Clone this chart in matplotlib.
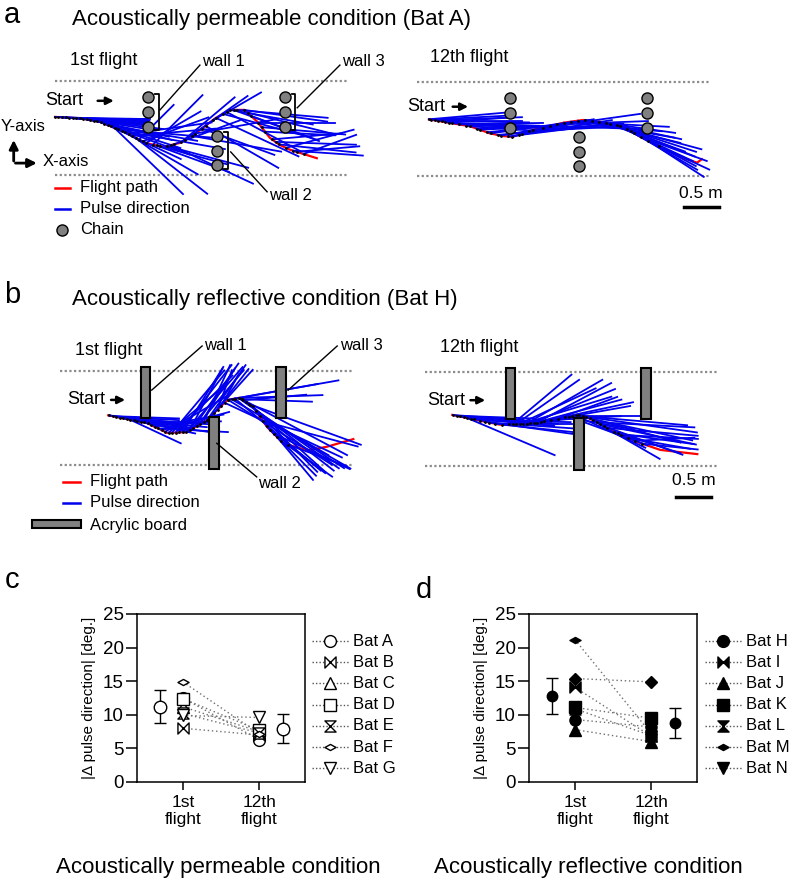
import numpy as np
import matplotlib
matplotlib.use("Agg")
import matplotlib.pyplot as plt
from matplotlib.lines import Line2D
from matplotlib.path import Path
from matplotlib.patches import Rectangle

plt.rcParams["font.family"] = ["Liberation Sans", "DejaVu Sans"]

W, H = 793, 885
PPM = 70.0  # figure pixels per metre in the flight drawings

# ---- flight room (m) ----
corridor_len = 4.2
corridor_w = 1.35
chain_x = [1.33, 2.32, 3.28]
chain_y_upper = [1.11, 0.90, 0.69]
chain_y_lower = [0.56, 0.35, 0.14]
board_x = [1.22, 2.20, 3.16]
board_w = 0.14
board_upper = (0.67, 1.40)
board_lower = (-0.05, 0.68)
scale_len = 0.5

# ---- Bat A, 1st flight (permeable) ----
a1_path_x = [0.00, 0.36, 0.64, 1.00, 1.29, 1.54, 1.79, 2.03, 2.29, 2.50, 2.71, 2.89, 3.07, 3.21, 3.36, 3.74]
a1_path_y = [0.83, 0.81, 0.76, 0.61, 0.46, 0.40, 0.46, 0.61, 0.81, 0.93, 0.93, 0.76, 0.53, 0.43, 0.36, 0.24]
a1_pulse_s = [0.00, 0.05, 0.10, 0.15, 0.20, 0.25, 0.30, 0.35, 0.40, 0.45, 0.50, 0.55, 0.60, 0.65, 0.70,
              0.75, 0.80, 0.85, 0.90, 0.95, 1.00, 1.05, 1.10, 1.15, 1.20, 1.25, 1.30, 1.40, 1.45, 1.50,
              1.60, 1.65, 1.70, 1.80, 1.85, 1.95, 2.00, 2.10, 2.15, 2.25, 2.30, 2.40, 2.45, 2.50, 2.55,
              2.60, 2.70, 2.75, 2.80, 2.90, 2.95, 3.00, 3.10, 3.15, 3.20, 3.30, 3.40, 3.45, 3.55]
a1_pulse_ang = [-4, -3, -2, -5, -1, -4, -6, -2, 0, -9, -7, -12, -14, -18, -20,
                -10, -25, -44, -5, -10, -30, 8, 5, -38, 45, 20, 30, 45, -20, -15,
                -15, -25, 20, 40, 35, -10, 10, -20, -30, 30, -25, -15, -28, -10, -20,
                -5, -8, -14, -20, 0, -5, -3, 5, -2, -6, 15, -4, 5, 20]
a1_pulse_len = [1.31, 1.28, 1.22, 1.20, 1.12, 1.10, 1.05, 1.00, 0.95, 1.00, 1.05, 1.10, 1.10, 1.20, 1.30,
                1.30, 1.10, 1.36, 1.40, 1.50, 1.20, 1.20, 1.20, 1.30, 0.70, 1.00, 0.90, 1.00, 1.10, 1.00,
                1.20, 1.30, 1.00, 1.00, 1.10, 1.30, 1.20, 1.10, 1.20, 0.80, 1.30, 1.30, 1.20, 1.20, 1.30,
                1.30, 1.20, 1.30, 1.00, 1.10, 1.20, 1.00, 1.00, 1.15, 1.10, 1.00, 1.00, 0.90, 0.80]

# ---- Bat A, 12th flight (permeable) ----
a2_path_x = [0.17, 0.76, 1.04, 1.23, 1.37, 1.66, 2.09, 2.37, 2.66, 2.94, 3.23, 3.51, 3.80, 4.00, 4.07]
a2_path_y = [0.81, 0.71, 0.61, 0.57, 0.56, 0.66, 0.76, 0.80, 0.77, 0.70, 0.54, 0.40, 0.26, 0.19, 0.24]
a2_pulse_s = [0.17, 0.20, 0.25, 0.30, 0.35, 0.40, 0.45, 0.50, 0.60, 0.70, 0.75, 0.85, 0.90, 1.00, 1.05,
              1.15, 1.20, 1.30, 1.35, 1.45, 1.50, 1.60, 1.65, 1.80, 1.90, 2.00, 2.10, 2.20, 2.30, 2.40,
              2.50, 2.60, 2.70, 2.75, 2.85, 2.90, 3.00, 3.05, 3.10, 3.20, 3.30, 3.45]
a2_pulse_ang = [5, 3, 2, -1, 0, 4, -2, -3, 1, -1, -4, 2, 3, 6, 8,
                5, 10, 7, 12, 9, 6, 3, 4, 8, -2, 2, -5, -3, -10, -8,
                -14, -12, -20, -18, -25, -22, -15, -30, -28, -20, -33, -25]
a2_pulse_len = [1.08, 1.20, 1.25, 1.30, 1.15, 1.00, 1.30, 1.20, 1.20, 1.25, 1.00, 1.20, 1.10, 1.30, 1.20,
                1.40, 1.30, 1.30, 1.20, 1.35, 1.40, 1.40, 1.30, 1.40, 1.40, 1.30, 1.40, 1.40, 1.40, 1.30,
                1.30, 1.20, 1.20, 1.30, 1.20, 1.15, 1.10, 1.10, 1.00, 1.00, 0.95, 0.80]

# ---- Bat H, 1st flight (reflective) ----
b1_path_x = [0.69, 1.24, 1.53, 1.81, 2.10, 2.39, 2.57, 2.76, 2.96, 3.19, 3.53, 3.81, 4.19]
b1_path_y = [0.71, 0.60, 0.46, 0.47, 0.64, 0.93, 0.96, 0.83, 0.54, 0.31, 0.21, 0.26, 0.37]
b1_pulse_s = [0.70, 0.75, 0.80, 0.85, 0.90, 0.95, 1.00, 1.05, 1.10, 1.15, 1.20, 1.25, 1.30, 1.35, 1.40,
              1.45, 1.50, 1.55, 1.60, 1.65, 1.70, 1.75, 1.80, 1.85, 1.90, 1.95, 2.00, 2.05, 2.10, 2.15,
              2.20, 2.25, 2.30, 2.40, 2.50, 2.55, 2.60, 2.62, 2.35, 2.40, 2.45, 2.50, 2.55, 2.60, 2.65,
              2.70, 2.72, 2.75, 2.80, 2.85, 2.90, 2.95, 3.00, 3.05, 3.10, 3.15, 3.25]
b1_pulse_ang = [-6, -2, -3, -10, -8, -4, -25, -12, -5, -2, 0, -8, 3, 10, -3,
                15, 30, 40, 50, 45, 52, 58, 49, 62, 55, 50, 58, 65, 55, 48,
                52, 70, 61, 10, 10, 2, -2, 5, -25, -32, -30, -40, -35, -28, -38,
                -20, -45, -42, -33, -30, -15, -45, -38, -25, -50, -35, -20]
b1_pulse_len = [0.85, 0.95, 0.90, 0.90, 1.00, 1.05, 0.80, 0.90, 1.00, 1.05, 0.90, 0.95, 1.00, 1.00, 1.00,
                1.00, 1.00, 1.10, 1.16, 1.15, 1.22, 1.10, 1.23, 1.00, 1.13, 1.05, 0.94, 0.90, 0.96, 0.90,
                0.80, 0.60, 0.52, 1.30, 1.50, 1.20, 1.00, 0.90, 1.85, 1.75, 1.60, 1.60, 1.75, 1.70, 1.60,
                1.70, 1.35, 1.40, 1.50, 1.50, 1.40, 1.00, 1.00, 1.20, 0.80, 0.90, 0.90]

# ---- Bat H, 12th flight (reflective) ----
b2_path_x = [0.39, 1.07, 1.54, 2.17, 2.31, 2.74, 3.07, 3.36, 3.89]
b2_path_y = [0.73, 0.59, 0.61, 0.73, 0.70, 0.47, 0.33, 0.23, 0.17]
b2_pulse_s = [0.40, 0.45, 0.50, 0.55, 0.60, 0.65, 0.70, 0.78, 0.85, 0.92, 1.00, 1.10, 1.20, 1.25, 1.30,
              1.35, 1.40, 1.45, 1.50, 1.55, 1.60, 1.65, 1.70, 1.80, 1.90, 2.00, 2.05, 2.10, 2.15, 2.20,
              2.25, 2.30, 2.35, 2.40, 2.45, 2.50, 2.55, 2.60, 2.70, 2.75, 2.80, 2.90, 3.00, 3.10]
b2_pulse_ang = [-4, -2, -6, -3, -23, -5, -3, -1, -8, -4, 0, -6, 5, 40, 35,
                25, 17, 30, 22, 15, 28, 10, 12, 3, 20, -10, -20, 0, -25, -15,
                -5, -8, -12, -30, -3, -12, -20, -5, -18, -8, -3, -10, 3, -6]
b2_pulse_len = [1.00, 1.10, 1.10, 1.25, 1.36, 1.20, 1.20, 1.30, 1.30, 1.20, 1.10, 1.10, 1.00, 1.10, 1.10,
                1.20, 1.32, 1.25, 1.31, 1.30, 1.20, 1.30, 1.30, 1.00, 0.90, 1.00, 1.20, 1.00, 1.10, 1.50,
                1.50, 1.60, 1.50, 1.10, 1.40, 1.40, 1.20, 1.30, 1.00, 1.10, 1.10, 0.90, 0.85, 0.80]

# ---- |delta pulse direction| (deg.) ----
flight_labels = ["1st\nflight", "12th\nflight"]
perm_bats = ["Bat A", "Bat B", "Bat C", "Bat D", "Bat E", "Bat F", "Bat G"]
perm_first = [12.5, 8.0, 11.2, 12.4, 10.2, 14.9, 9.9]
perm_twelfth = [6.3, 7.0, 7.5, 7.7, 7.3, 7.2, 9.6]
perm_mean = [11.2, 7.95]
perm_sd = [2.45, 2.1]

refl_bats = ["Bat H", "Bat I", "Bat J", "Bat K", "Bat L", "Bat M", "Bat N"]
refl_first = [9.3, 14.1, 7.8, 11.1, 10.9, 21.2, 15.4]
refl_twelfth = [8.2, 6.8, 6.0, 9.5, 6.9, 7.2, 14.9]
refl_mean = [12.8, 8.8]
refl_sd = [2.65, 2.25]


def fx(px):
    return px / W


def fy(py):
    return 1 - py / H


fig = plt.figure(figsize=(W / 100, H / 100), dpi=100)


def flight_axes(left, top, right, bottom, x0, y0):
    ax = fig.add_axes([fx(left), fy(bottom), (right - left) / W, (bottom - top) / H])
    ax.set_xlim((left - x0) / PPM, (right - x0) / PPM)
    ax.set_ylim((y0 - bottom) / PPM, (y0 - top) / PPM)
    ax.axis("off")
    return ax


def draw_flight(ax, path_x, path_y, ps, pang, plen):
    for yy in (0, corridor_w):
        ax.plot([0, corridor_len], [yy, yy], color="#8c8c8c", lw=1.6,
                ls=(0, (1, 1.1)), zorder=1)
    ax.plot(path_x, path_y, color="red", lw=1.6, zorder=2)
    ps = np.asarray(ps)
    oy = np.interp(ps, path_x, path_y)
    a = np.radians(pang)
    ex = ps + np.asarray(plen) * np.cos(a)
    ey = oy + np.asarray(plen) * np.sin(a)
    for x1, y1, x2, y2 in zip(ps, oy, ex, ey):
        ax.plot([x1, x2], [y1, y2], color="#0000ee", lw=1.3, zorder=3)
    ax.plot(ps, oy, "k.", ms=2, zorder=4)


def draw_chains(ax):
    for i, cx in enumerate(chain_x):
        cy = chain_y_lower if i == 1 else chain_y_upper
        ax.plot([cx] * 3, cy, "o", ms=8, mfc="#808080", mec="black", mew=1.0, zorder=5)


def draw_boards(ax):
    for i, bx in enumerate(board_x):
        lo, hi = board_lower if i == 1 else board_upper
        ax.add_patch(Rectangle((bx - board_w / 2, lo), board_w, hi - lo,
                               fc="#808080", ec="black", lw=1.5, zorder=5))


def bracket(ax, x, top, bot):
    ax.plot([x - 0.05, x, x, x - 0.05], [top, top, bot, bot], color="black", lw=1.3, zorder=5)


def start_arrow(ax, xtext, y, xa, xb):
    ax.text(xtext, y, "Start", fontsize=13, ha="right", va="center")
    ax.annotate("", xy=(xb, y), xytext=(xa, y),
                arrowprops=dict(arrowstyle="-|>", color="black", lw=1.8, mutation_scale=11))


def leader(ax, p1, p2, label, tx, ty):
    ax.plot([p1[0], p2[0]], [p1[1], p2[1]], color="black", lw=1.0, zorder=6)
    ax.text(tx, ty, label, fontsize=12, ha="left", va="center")


def scale_bar(ax, x_left, y_bar, y_text):
    ax.plot([x_left, x_left + scale_len], [y_bar, y_bar], color="black", lw=2.5)
    ax.text(x_left + scale_len / 2, y_text, f"{scale_len} m", fontsize=12.5, ha="center", va="center")


# ---------- panel a ----------
fig.text(fx(4), fy(23), "a", fontsize=21, va="baseline")
fig.text(fx(72), fy(25), "Acoustically permeable condition (Bat A)", fontsize=16, va="baseline")

ax = flight_axes(0, 40, 392, 245, 55, 175)
draw_flight(ax, a1_path_x, a1_path_y, a1_pulse_s, a1_pulse_ang, a1_pulse_len)
draw_chains(ax)
bracket(ax, chain_x[0] + 0.15, chain_y_upper[0] + 0.05, chain_y_upper[2] - 0.05)
bracket(ax, chain_x[2] + 0.15, chain_y_upper[0] + 0.05, chain_y_upper[2] - 0.05)
bracket(ax, chain_x[1] + 0.15, chain_y_lower[0] + 0.05, chain_y_lower[2] - 0.05)
leader(ax, (1.50, 0.93), (2.07, 1.57), "wall 1", 2.10, 1.62)
leader(ax, (3.46, 0.96), (4.07, 1.57), "wall 3", 4.10, 1.62)
leader(ax, (2.51, 0.33), (3.03, -0.24), "wall 2", 3.06, -0.30)
ax.text(0.21, 1.63, "1st flight", fontsize=13, ha="left", va="center")
start_arrow(ax, 0.40, 1.06, 0.57, 0.88)
# axis orientation sketch
ax.annotate("", xy=(-0.59, 0.54), xytext=(-0.59, 0.16),
            arrowprops=dict(arrowstyle="-|>", color="black", lw=2, mutation_scale=13))
ax.annotate("", xy=(-0.22, 0.17), xytext=(-0.605, 0.17),
            arrowprops=dict(arrowstyle="-|>", color="black", lw=2, mutation_scale=13))
ax.text(-0.77, 0.69, "Y-axis", fontsize=12, ha="left", va="center")
ax.text(-0.18, 0.19, "X-axis", fontsize=12, ha="left", va="center")
# legend
ax.plot([0.0, 0.21], [-0.18, -0.18], color="red", lw=1.8)
ax.plot([0.0, 0.21], [-0.48, -0.48], color="#0000ee", lw=1.8)
ax.plot([0.1], [-0.78], "o", ms=8, mfc="#808080", mec="black", mew=1.0)
ax.text(0.36, -0.18, "Flight path", fontsize=12, va="center")
ax.text(0.36, -0.48, "Pulse direction", fontsize=12, va="center")
ax.text(0.36, -0.78, "Chain", fontsize=12, va="center")

ax = flight_axes(395, 40, 790, 245, 417, 176)
draw_flight(ax, a2_path_x, a2_path_y, a2_pulse_s, a2_pulse_ang, a2_pulse_len)
draw_chains(ax)
ax.text(0.19, 1.70, "12th flight", fontsize=13, ha="left", va="center")
start_arrow(ax, 0.40, 0.99, 0.47, 0.77)
scale_bar(ax, 3.81, -0.44, -0.25)

# ---------- panel b ----------
fig.text(fx(4), fy(303), "b", fontsize=21, va="baseline")
fig.text(fx(72), fy(305), "Acoustically reflective condition (Bat H)", fontsize=16, va="baseline")

ax = flight_axes(0, 330, 392, 545, 60, 465)
draw_flight(ax, b1_path_x, b1_path_y, b1_pulse_s, b1_pulse_ang, b1_pulse_len)
draw_boards(ax)
leader(ax, (1.31, 1.07), (2.03, 1.70), "wall 1", 2.06, 1.70)
leader(ax, (3.26, 1.07), (3.96, 1.70), "wall 3", 4.00, 1.70)
leader(ax, (2.24, 0.31), (2.81, -0.17), "wall 2", 2.83, -0.26)
ax.text(0.21, 1.64, "1st flight", fontsize=13, ha="left", va="center")
start_arrow(ax, 0.64, 0.93, 0.69, 0.97)
ax.plot([0.04, 0.29], [-0.24, -0.24], color="red", lw=1.8)
ax.plot([0.04, 0.29], [-0.54, -0.54], color="#0000ee", lw=1.8)
ax.add_patch(Rectangle((-0.40, -0.90), 0.70, 0.11, fc="#808080", ec="black", lw=1.5))
ax.text(0.43, -0.24, "Flight path", fontsize=12, va="center")
ax.text(0.43, -0.54, "Pulse direction", fontsize=12, va="center")
ax.text(0.43, -0.86, "Acrylic board", fontsize=12, va="center")

ax = flight_axes(395, 330, 790, 545, 425, 466)
draw_flight(ax, b2_path_x, b2_path_y, b2_pulse_s, b2_pulse_ang, b2_pulse_len)
draw_boards(ax)
ax.text(0.21, 1.69, "12th flight", fontsize=13, ha="left", va="center")
start_arrow(ax, 0.57, 0.94, 0.61, 0.90)
scale_bar(ax, 3.59, -0.44, -0.21)

# ---------- panels c and d ----------
bowtie = Path([(-1, 1), (-1, -1), (1, 1), (1, -1), (-1, 1)],
              [Path.MOVETO, Path.LINETO, Path.LINETO, Path.LINETO, Path.CLOSEPOLY])
hourglass = Path([(-1, 1), (1, 1), (-1, -1), (1, -1), (-1, 1)],
                 [Path.MOVETO, Path.LINETO, Path.LINETO, Path.LINETO, Path.CLOSEPOLY])
flat_diamond = Path([(-1, 0), (0, 0.55), (1, 0), (0, -0.55), (-1, 0)],
                    [Path.MOVETO, Path.LINETO, Path.LINETO, Path.LINETO, Path.CLOSEPOLY])
legend_markers = ["o", bowtie, "^", "s", hourglass, flat_diamond, "v"]
legend_sizes = [8.5, 8, 8.5, 8.5, 8, 8, 8.5]
refl_plot_markers = ["o", bowtie, "^", "s", hourglass, flat_diamond, "D"]
refl_plot_sizes = [8, 8, 8, 8.5, 8, 8, 6]

flight_x = [1, 2]
mean_x = [0.70, 2.31]


def dot_panel(left, bats, first, twelfth, mean, sd, filled, plot_markers, plot_sizes,
              leg_x, letter, letter_x, letter_y, cond, cond_x):
    ax = fig.add_axes([fx(left), fy(782), 168 / W, 168 / H])
    face = "black" if filled else "white"
    for i in range(len(bats)):
        ax.plot(flight_x, [first[i], twelfth[i]], color="#707070", lw=1.0,
                ls=(0, (1, 2)), zorder=2)
    for i in range(len(bats)):
        ax.plot(flight_x, [first[i], twelfth[i]], ls="none", marker=plot_markers[i],
                ms=plot_sizes[i], mfc=face, mec="black", mew=1.0, zorder=3)
    ax.errorbar(mean_x, mean, yerr=sd, fmt="o", ms=9 if not filled else 7.5, mfc=face,
                mec="black", mew=1.0, ecolor="black", elinewidth=1.0, capsize=4, capthick=1.0)
    ax.set_xlim(0.40, 2.60)
    ax.set_ylim(0, 25)
    ax.set_yticks([0, 5, 10, 15, 20, 25])
    ax.set_xticks(flight_x)
    ax.set_xticklabels(flight_labels, linespacing=1.15)
    ax.tick_params(axis="y", direction="out", length=8, width=1.1, labelsize=13.5, pad=1.5)
    ax.tick_params(axis="x", direction="out", length=5.5, width=1.1, labelsize=12.5, pad=4)
    for sp in ax.spines.values():
        sp.set_linewidth(1.1)
    ax.set_ylabel("|\u0394 pulse direction| [deg.]", fontsize=11, labelpad=5)
    # legend
    for i, b in enumerate(bats):
        yy = fy(641 + 21.2 * i)
        fig.add_artist(Line2D([fx(leg_x), fx(leg_x + 37)], [yy, yy], color="#555555", lw=1.0,
                              ls=(0, (1, 1.5))))
        fig.add_artist(Line2D([fx(leg_x + 18)], [yy], ls="none", marker=legend_markers[i],
                              ms=legend_sizes[i], mfc=face, mec="black", mew=1.0))
        fig.text(fx(leg_x + 41), yy, b, fontsize=12, va="center")
    fig.text(fx(letter_x), fy(letter_y), letter, fontsize=21, va="baseline")
    fig.text(fx(cond_x), fy(867), cond, fontsize=16, ha="center", va="center")
    return ax


dot_panel(137, perm_bats, perm_first, perm_twelfth, perm_mean, perm_sd, False,
          legend_markers, legend_sizes, 312, "c", 5, 588, "Acoustically permeable condition", 218)
dot_panel(529, refl_bats, refl_first, refl_twelfth, refl_mean, refl_sd, True,
          refl_plot_markers, refl_plot_sizes, 705, "d", 416, 598, "Acoustically reflective condition", 588)

fig.savefig("out.png", dpi=100)
